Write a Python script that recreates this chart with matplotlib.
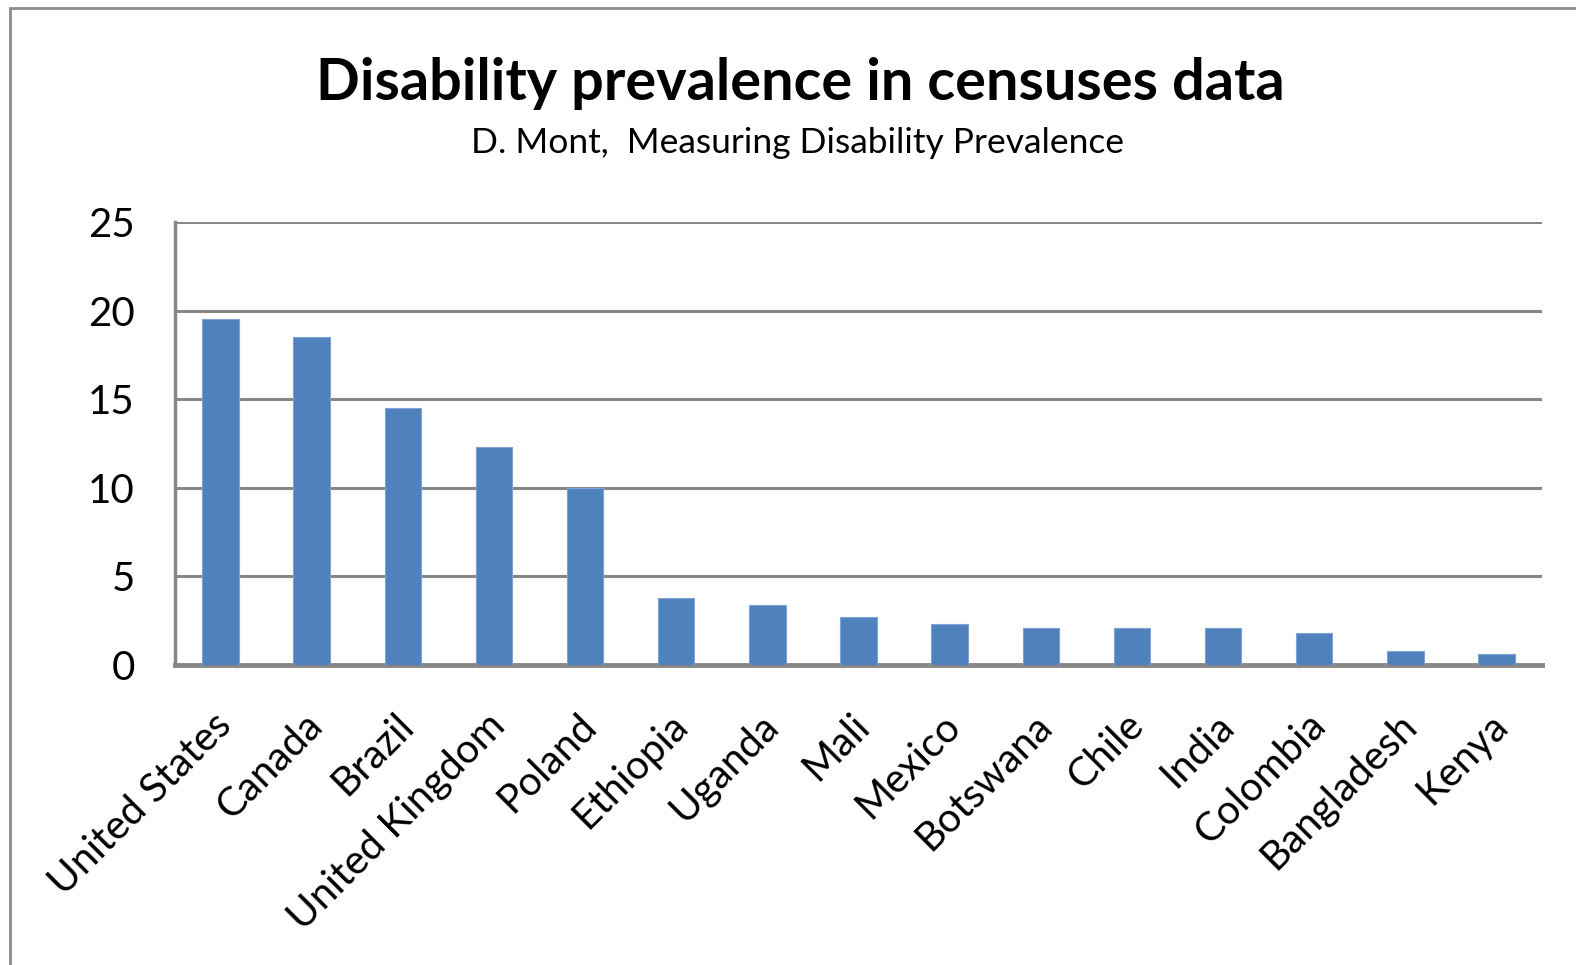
import matplotlib
matplotlib.use("Agg")
import matplotlib.pyplot as plt
from matplotlib.patches import Rectangle
from matplotlib.transforms import ScaledTranslation

countries = ["United States", "Canada", "Brazil", "United Kingdom", "Poland",
             "Ethiopia", "Uganda", "Mali", "Mexico", "Botswana", "Chile",
             "India", "Colombia", "Bangladesh", "Kenya"]
prevalence = [19.5, 18.5, 14.5, 12.3, 10.0, 3.8, 3.4, 2.7, 2.3, 2.1, 2.1,
              2.1, 1.8, 0.8, 0.6]
yticks = [0, 5, 10, 15, 20, 25]

title = "Disability prevalence in censuses data"
subtitle = "D. Mont,  Measuring Disability Prevalence"

font = ["Lato", "DejaVu Sans"]
plt.rcParams["font.family"] = font

fig = plt.figure(figsize=(15.76, 9.65), dpi=100)
fig.patch.set_facecolor("white")

# outer chart border
fig.patches.append(Rectangle((10 / 1576, -0.05), 1.2, 1 - 8 / 965 + 0.05,
                             transform=fig.transFigure, fill=False,
                             edgecolor="#8c8c8c", linewidth=2))

ax = fig.add_axes([175 / 1576, 300 / 965, (1542 - 175) / 1576, (665 - 222) / 965])
x = list(range(len(countries)))
ax.bar(x, prevalence, width=0.4, color="#4f81bd", edgecolor="#7fa4d3",
       linewidth=0.8, zorder=3)
ax.set_xlim(-0.5, len(countries) - 0.5)
ax.set_ylim(0, 25)
ax.set_yticks(yticks)
ax.set_yticklabels([str(v) for v in yticks], fontsize=29)
ax.yaxis.grid(True, color="#878787", linewidth=2.2, zorder=1)
ax.set_axisbelow(True)
ax.tick_params(axis="y", length=0, pad=29)
ax.set_xticks(x)
ax.set_xticklabels(countries, rotation=45, ha="right", va="top",
                   rotation_mode="anchor", fontsize=29)
ax.tick_params(axis="x", length=0, pad=30)
shift = ScaledTranslation(-0.08, 0.0, fig.dpi_scale_trans)
for lbl in ax.get_xticklabels():
    lbl.set_transform(lbl.get_transform() + shift)
ax.spines["right"].set_visible(False)
ax.spines["top"].set_visible(False)
ax.spines["left"].set_color("#878787")
ax.spines["left"].set_linewidth(2.5)
ax.spines["bottom"].set_color("#878787")
ax.spines["bottom"].set_linewidth(3.5)

fig.text(0.508, 0.913, title, ha="center", va="center", fontsize=41.5,
         fontweight="bold")
fig.text(0.506, 0.852, subtitle, ha="center", va="center", fontsize=25.5)

fig.savefig("out.png", dpi=100)
